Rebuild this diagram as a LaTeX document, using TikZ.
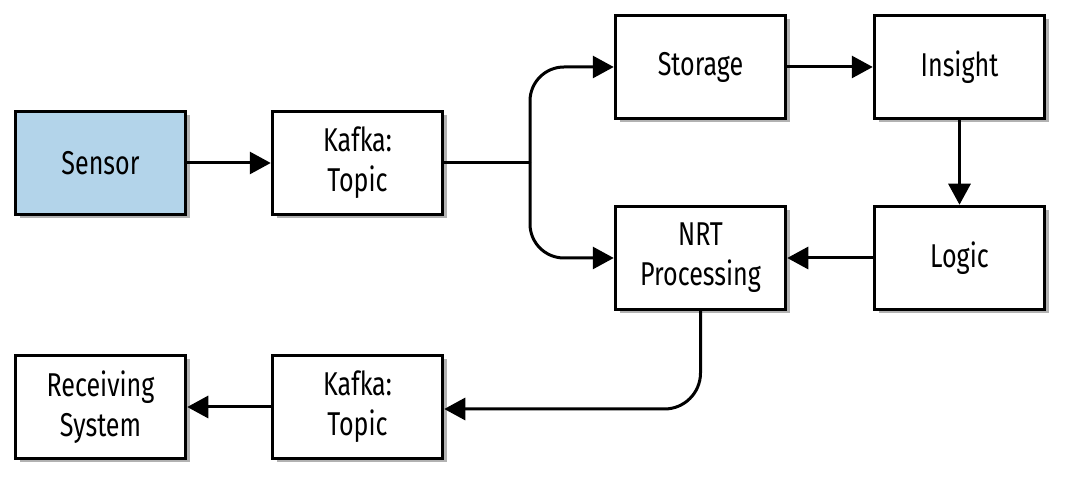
\documentclass[tikz,border=0pt]{standalone}
\usepackage{fontspec}
\setmainfont{Fira Sans}[FakeStretch=0.76]
\usetikzlibrary{arrows.meta,shadows}
\definecolor{sensorblue}{HTML}{B3D4EA}
\begin{document}
\begin{tikzpicture}[x=1pt,y=1pt,
  box/.style={draw=black,line width=3.5pt,fill=white,minimum width=170pt,minimum height=103pt,
    align=center,font=\fontsize{33}{40}\selectfont,
    drop shadow={shadow xshift=4pt,shadow yshift=-4pt,opacity=0.3,fill=black}},
  conn/.style={line width=3pt,-{Triangle[length=21pt,width=22pt]}},
  plain/.style={line width=3pt}]
\useasboundingbox (0,0) rectangle (1074,489);
\node[box,fill=sensorblue] (sensor) at (100.5,326) {Sensor};
\node[box] (kafka1) at (357.5,326) {Kafka:\\Topic};
\node[box] (storage) at (700.5,422) {Storage};
\node[box] (insight) at (959.5,422) {Insight};
\node[box] (nrt) at (700.5,231) {NRT\\Processing};
\node[box] (logic) at (959.5,231) {Logic};
\node[box] (recv) at (100.5,82) {Receiving\\System};
\node[box] (kafka2) at (357.5,82) {Kafka:\\Topic};
\coordinate (split) at (530,326);
\draw[conn] (sensor) -- (kafka1);
\draw[plain] (kafka1) -- (split);
\draw[conn,rounded corners=34pt] (split) |- (storage.west);
\draw[conn,rounded corners=34pt] (split) |- (nrt.west);
\draw[conn] (storage) -- (insight);
\draw[conn] (insight) -- (logic);
\draw[conn] (logic) -- (nrt);
\draw[conn,rounded corners=36pt] (nrt.south) |- ([yshift=-2pt]kafka2.east);
\draw[conn] (kafka2) -- (recv);
\end{tikzpicture}
\end{document}
